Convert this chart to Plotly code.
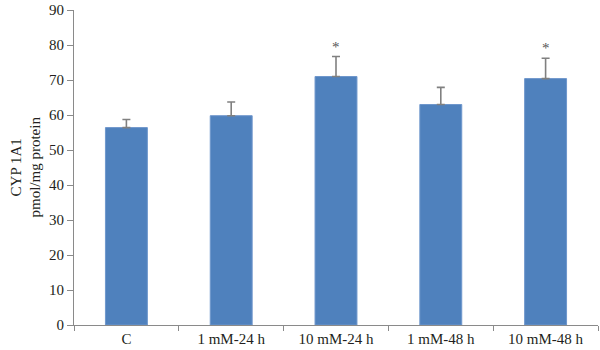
import plotly.graph_objects as go

# CYP 1A1 content per treatment group (mean with upper error)
groups = ["C", "1 mM-24 h", "10 mM-24 h", "1 mM-48 h", "10 mM-48 h"]
means = [56.4, 59.8, 71.0, 63.0, 70.4]
errors = [2.3, 3.9, 5.7, 4.9, 5.8]
significant = [False, False, True, False, True]
y_ticks = [0, 10, 20, 30, 40, 50, 60, 70, 80, 90]

FONT = "Liberation Serif, Times New Roman, serif"
AXIS_GREY = "#8a8a8a"
TEXT = "#231f20"

fig = go.Figure()
fig.add_trace(go.Bar(
    x=groups,
    y=means,
    width=0.4,
    marker=dict(color="#4f81bd", line=dict(color="#6f97cc", width=1)),
    error_y=dict(
        type="data",
        array=errors,
        arrayminus=[0] * len(errors),
        symmetric=False,
        color="#808080",
        thickness=1.6,
        width=4,
    ),
    showlegend=False,
))

# significance markers above the error bars
for g, m, e, s in zip(groups, means, errors, significant):
    if s:
        fig.add_annotation(
            x=g, y=m + e, xref="x", yref="y",
            text="*", showarrow=False,
            yanchor="bottom", yshift=0,
            font=dict(family=FONT, size=15, color="#555555"),
        )

# two-line rotated y-axis title
fig.add_annotation(
    x=0, y=0.5, xref="paper", yref="paper",
    text="CYP 1A1<br>pmol/mg protein",
    textangle=-90, showarrow=False,
    xanchor="center", yanchor="middle", xshift=-49,
    font=dict(family=FONT, size=15, color=TEXT),
)

fig.update_layout(
    width=600, height=350,
    margin=dict(l=74, r=2, t=6, b=25),
    paper_bgcolor="white",
    plot_bgcolor="white",
    font=dict(family=FONT, size=15, color=TEXT),
    bargap=0.6,
    xaxis=dict(
        type="category",
        showline=True, linecolor=AXIS_GREY, linewidth=1.2,
        ticks="outside", tickson="boundaries", ticklen=5,
        tickcolor=AXIS_GREY, tickwidth=1.2,
        showgrid=False, zeroline=False,
        tickfont=dict(family=FONT, size=15, color=TEXT),
    ),
    yaxis=dict(
        range=[0, 90],
        tickvals=y_ticks,
        ticklabeloverflow="allow",
        showline=True, linecolor=AXIS_GREY, linewidth=1.2,
        ticks="outside", ticklen=6, tickcolor=AXIS_GREY, tickwidth=1.2,
        showgrid=False, zeroline=False,
        tickfont=dict(family=FONT, size=15, color=TEXT),
    ),
)

fig.write_html("out.html")
